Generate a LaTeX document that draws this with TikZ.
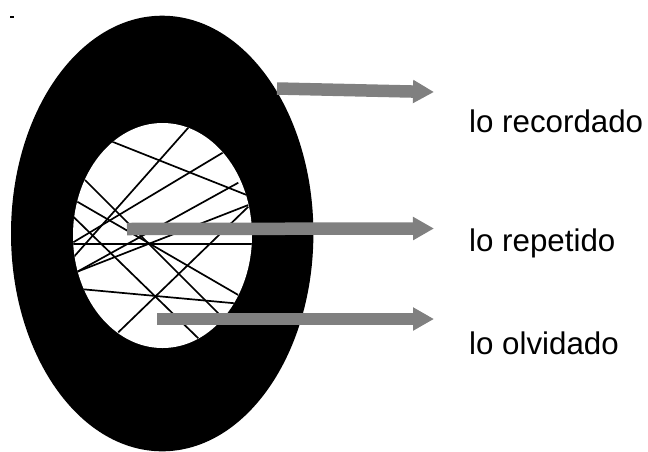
\documentclass[tikz,border=0pt]{standalone}
\usepackage{fontspec}
\setmainfont{Liberation Sans}
\usetikzlibrary{arrows.meta}
\definecolor{arrowgray}{RGB}{128,128,128}
\tikzset{
  fatarrow/.style={draw=arrowgray, line width=12.5pt,
    -{Triangle[width=22pt,length=21pt,fill=arrowgray]}},
  strand/.style={draw=black, line width=1.7pt},
  label/.style={anchor=base west, inner sep=0pt, font=\fontsize{31.3}{36}\selectfont}
}
\begin{document}
\begin{tikzpicture}[x=1pt,y=-1pt]
\useasboundingbox (0,0) rectangle (648,451);
% tiny mark
\fill[black] (10,16) rectangle (14,17.6);
% outer ring
\fill[black] (162.2,233.5) ellipse [x radius=151.2, y radius=217.8];
\fill[white] (162.5,235.5) ellipse [x radius=89.5, y radius=112.5];
% strands inside
\begin{scope}
\clip (162.5,235.5) ellipse [x radius=89.5, y radius=112.5];
\draw[strand] (112.3,141.7) -- (246.7,195);
\draw[strand] (188.3,127.7) -- (74,256.7);
\draw[strand] (222.7,152.7) -- (73.3,242.3);
\draw[strand] (238.3,182.7) -- (77.3,271.7);
\draw[strand] (248.3,205) -- (77.3,271.7);
\draw[strand] (248.3,206.7) -- (118.3,332.3);
\draw[strand] (70,243.7) -- (255,243.7);
\draw[strand] (85,180) -- (218.3,313.3);
\draw[strand] (77.3,201.7) -- (238.3,295);
\draw[strand] (83.3,289.3) -- (235,303.3);
\draw[strand] (73.3,216.7) -- (198.3,338.3);
\end{scope}
% arrows
\coordinate (a1s) at (277,88.5);
\coordinate (a1e) at (434,92);
\coordinate (a2s) at (127,229);
\coordinate (a2e) at (434,228.5);
\coordinate (a3s) at (157,319);
\coordinate (a3e) at (434,319);
\draw[fatarrow] (a1s) -- (a1e);
\draw[fatarrow] (a2s) -- (a2e);
\draw[fatarrow] (a3s) -- (a3e);
% labels
\node[label] (recordado) at (469,132) {lo recordado};
\node[label] (repetido) at (469,251.7) {lo repetido};
\node[label] (olvidado) at (469,354) {lo olvidado};
\end{tikzpicture}
\end{document}
